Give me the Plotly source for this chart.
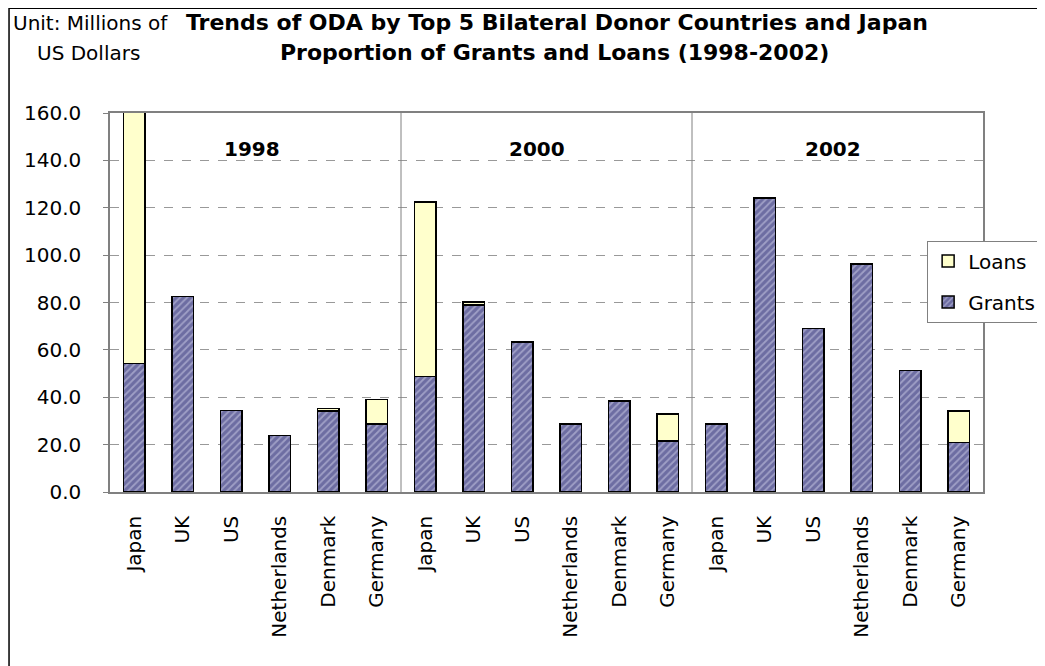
import plotly.graph_objects as go

countries = ["Japan", "UK", "US", "Netherlands", "Denmark", "Germany"]
years = ["1998", "2000", "2002"]
grants_1998 = [54.2, 82.5, 34.4, 23.9, 34.2, 28.8]
loans_1998 = [106.0, None, None, None, 1.0, 10.3]
grants_2000 = [48.7, 79.0, 63.3, 28.8, 38.4, 21.5]
loans_2000 = [73.8, 1.2, None, None, None, 11.4]
grants_2002 = [28.8, 124.2, 69.0, 96.3, 51.4, 20.8]
loans_2002 = [None, None, None, None, None, 13.5]
y_ticks = [0, 20, 40, 60, 80, 100, 120, 140, 160]

grants = grants_1998 + grants_2000 + grants_2002
loans = loans_1998 + loans_2000 + loans_2002
labels = countries * len(years)
xs = list(range(len(labels)))

FONT = "DejaVu Sans"

fig = go.Figure()
fig.add_trace(go.Bar(
    x=xs, y=grants, name="Grants", width=0.45,
    marker=dict(color="#6D6DA2",
                line=dict(color="black", width=1.5),
                pattern=dict(shape="/", fgcolor="#D2D2EA", bgcolor="#6D6DA2",
                             size=5, solidity=0.35)),
    legendgroup="g", legendrank=2,
))
fig.add_trace(go.Bar(
    x=xs, y=loans, name="Loans", width=0.45,
    marker=dict(color="#FFFFCC", line=dict(color="black", width=1.5)),
    legendgroup="l", legendrank=1,
))

# screen-pixel helpers (page body has an 8px offset; plot area is at
# screen x 110..985, y 113.5..492.5)
def py(Y):
    return (492.5 - Y) / 379

def px(X):
    return (X - 110) / 875

shapes = []
for i in range(1, len(years)):
    sep = i * len(countries) - 0.5
    shapes.append(dict(type="line", xref="x", yref="paper", x0=sep, x1=sep,
                       y0=0, y1=1, line=dict(color="#808080", width=1)))
# outer chart border
shapes.append(dict(type="rect", xref="paper", yref="paper",
                   x0=px(8.8), x1=px(1070),
                   y0=py(690), y1=py(8.8),
                   line=dict(color="black", width=1.5), layer="below"))

annotations = []
year_x = [2.42, 8.3, 14.4]
for yr, xc in zip(years, year_x):
    annotations.append(dict(x=xc, y=144.6, xref="x", yref="y", text="<b>%s</b>" % yr,
                            showarrow=False, font=dict(family=FONT, size=20, color="black")))

annotations += [
    dict(x=px(558), y=py(23), xref="paper", yref="paper",
         text="<b>Trends of ODA by Top 5 Bilateral Donor Countries and Japan</b>",
         showarrow=False, xanchor="center", yanchor="middle",
         font=dict(family=FONT, size=22, color="black")),
    dict(x=px(556), y=py(53), xref="paper", yref="paper",
         text="<b>Proportion of Grants and Loans (1998-2002)</b>",
         showarrow=False, xanchor="center", yanchor="middle",
         font=dict(family=FONT, size=22, color="black")),
    dict(x=px(90), y=py(24), xref="paper", yref="paper",
         text="Unit: Millions of", showarrow=False, xanchor="center", yanchor="middle",
         font=dict(family=FONT, size=20, color="black")),
    dict(x=px(88), y=py(54), xref="paper", yref="paper",
         text="US Dollars", showarrow=False, xanchor="center", yanchor="middle",
         font=dict(family=FONT, size=20, color="black")),
]

fig.update_layout(
    width=1045, height=666,
    margin=dict(l=102, r=68, t=105, b=182),
    barmode="stack",
    paper_bgcolor="white", plot_bgcolor="white",
    font=dict(family=FONT, size=20, color="black"),
    shapes=shapes, annotations=annotations,
    legend=dict(x=px(929), y=py(241), xanchor="left", yanchor="top",
                traceorder="grouped", tracegroupgap=12,
                bgcolor="white", bordercolor="#808080", borderwidth=1,
                font=dict(family=FONT, size=20, color="black")),
    showlegend=True,
)
fig.update_xaxes(range=[-0.5, len(labels) - 0.5], tickvals=xs, ticktext=labels,
                 tickangle=-90, ticks="", showgrid=False, showline=True,
                 linecolor="#808080", linewidth=1.5, mirror=True,
                 tickfont=dict(family=FONT, size=20, color="black"),
                 ticklabelstandoff=14)
fig.update_yaxes(range=[0, 160], tickvals=y_ticks, tickformat=".1f",
                 ticks="outside", ticklen=5, tickcolor="#808080",
                 showgrid=True, gridcolor="#999999", griddash="dash", gridwidth=1,
                 zeroline=False, showline=True, linecolor="#808080", linewidth=1.5,
                 mirror=True, tickfont=dict(family=FONT, size=20, color="black"),
                 ticklabelstandoff=18)

fig.write_html("out.html")
